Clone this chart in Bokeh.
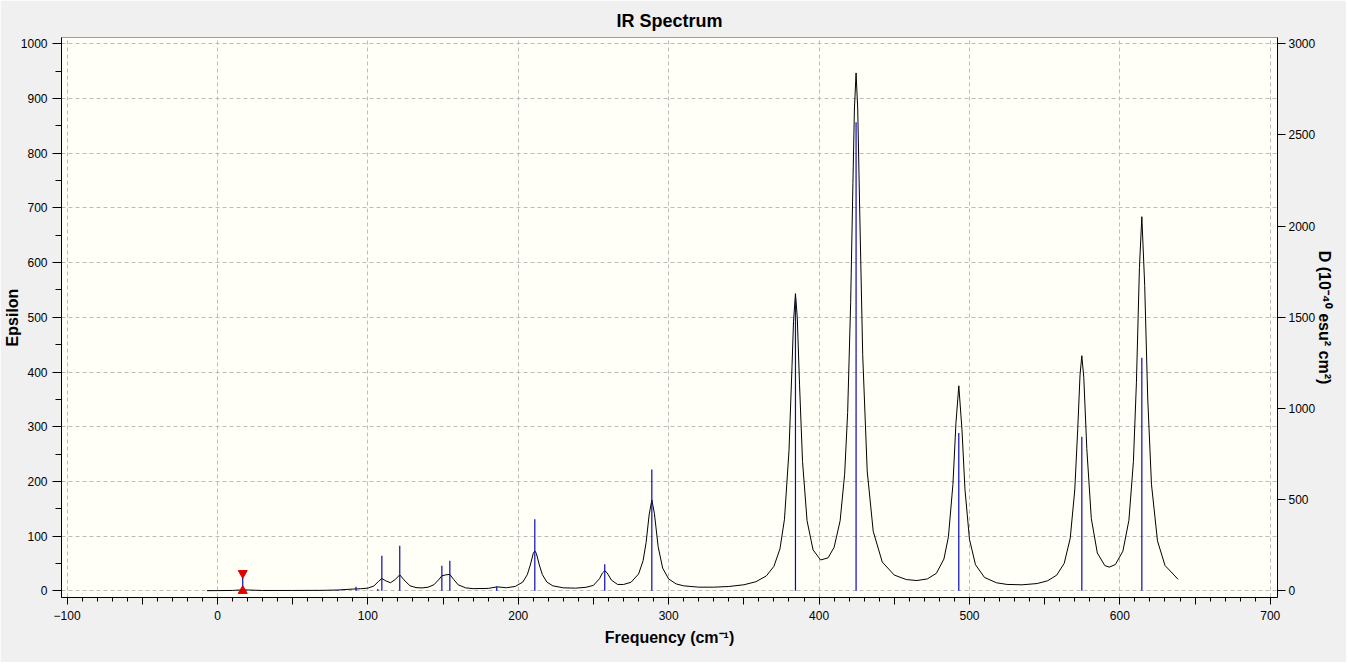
from bokeh.plotting import figure
from bokeh.models import Range1d, LinearAxis, FixedTicker, ColumnDataSource
from bokeh.embed import file_html
from bokeh.resources import INLINE

# ---- data ----
# computed IR stick frequencies (cm-1) and dipole strengths D (10^-40 esu^2 cm^2)
stick_freq = [16.8, 80.2, 92.1, 106.6, 109.3, 121.2, 149.2, 154.5, 185.7, 211.0,
              257.5, 288.8, 384.3, 424.6, 492.9, 574.7, 614.6]
stick_D = [97, 4, 22, 10, 192, 247, 137, 165, 24, 392,
           146, 665, 1605, 2570, 865, 845, 1278]

# broadened spectrum (Epsilon) read point by point
curve_freq = [-7, 0, 10, 17, 30, 50, 70, 80, 90, 95, 100, 104, 107, 109.3, 112, 115, 118,
              121.2, 124, 128, 132, 136, 140, 144, 147, 149.2, 152, 154.5, 157, 160, 165,
              170, 180, 186, 192, 198, 203, 206, 208, 210, 211, 212, 214, 216, 219, 223,
              230, 238, 245, 250, 254, 256, 257.5, 259, 262, 266, 270, 275, 280, 283, 285,
              287, 288.8, 290.5, 293, 296, 300, 305, 310, 320, 330, 340, 350, 358, 365,
              370, 374, 377, 380, 382, 383, 384.3, 385.5, 387, 389, 392, 396, 401, 406,
              410, 414, 417, 419, 421, 422.5, 423.5, 424.6, 425.7, 427, 429, 432, 436,
              442, 450, 458, 465, 472, 478, 483, 486, 489, 491, 492.9, 495, 497, 500, 504,
              510, 518, 525, 535, 545, 552, 558, 563, 567, 570, 572, 573.5, 574.7, 576,
              578, 581, 585, 590, 593, 597, 602, 606, 609, 611, 613, 614.6, 616.5, 618.5,
              621, 625, 630, 638.7]
curve_eps = [0.3, 0.4, 0.7, 1.8, 0.6, 0.7, 0.9, 1.5, 3.2, 3.8, 4.9, 8.9, 17.0, 22.5, 18.1,
             14.8, 20.2, 29.2, 20.1, 9.2, 5.9, 5.3, 6.6, 11.2, 20.1, 27.4, 29.3, 30.0, 21.0,
             11.1, 5.4, 4.0, 4.4, 7.3, 5.6, 8.0, 16.0, 29.5, 47.2, 68.7, 72.9, 68.7, 47.3,
             29.7, 16.1, 9.1, 5.5, 4.9, 6.4, 10.0, 22.2, 32.7, 36.8, 33.1, 19.5, 11.7, 11.6,
             15.7, 30.8, 55.1, 88.4, 138.6, 166.2, 141.7, 80.8, 41.5, 21.6, 12.6, 9.1, 6.7,
             6.7, 7.9, 11.1, 16.6, 27.4, 44.9, 76.8, 130.9, 255.9, 409.9, 491.9, 543.3,
             499.7, 377.8, 236.7, 128.3, 74.9, 56.4, 60.3, 79.6, 128.0, 213.2, 325.9, 527.1,
             744.1, 880.8, 946.7, 880.8, 698.0, 431.6, 218.8, 108.8, 52.7, 28.8, 20.6, 18.8,
             21.8, 32.0, 58.1, 98.7, 194.7, 306.5, 374.8, 295.0, 185.4, 94.2, 47.7, 24.4,
             14.7, 11.7, 11.0, 13.3, 18.4, 28.7, 50.3, 96.3, 184.3, 297.1, 394.5, 429.8,
             389.9, 260.4, 132.3, 69.2, 46.1, 43.3, 48.0, 72.5, 128.9, 236.2, 381.2, 590.7,
             683.9, 558.4, 352.5, 194.9, 91.4, 46.4, 21.0]

selected_index = 0  # the highlighted stick (red markers)

x_labeled = [-100, 0, 100, 200, 300, 400, 500, 600, 700]
x_major = list(range(-100, 701, 50))
x_minor = list(range(-100, 701, 10))
eps_ticks = [0, 100, 200, 300, 400, 500, 600, 700, 800, 900, 1000]
eps_minor = list(range(0, 1001, 50))
d_ticks = [0, 500, 1000, 1500, 2000, 2500, 3000]

title_text = "IR Spectrum"
x_title = "Frequency (cm\u207b\u00b9)"
y_title = "Epsilon"
y2_title = "D (10\u207b\u2074\u2070 esu\u00b2 cm\u00b2)"

FONT = "Liberation Sans"
X0, X1 = -103.7, 704.8
Y0, Y1 = -12.2, 1011.5

p = figure(width=1346, height=662, output_backend="svg", toolbar_location=None,
           x_range=Range1d(X0, X1), y_range=Range1d(Y0, Y1),
           title=title_text, background_fill_color="#fffff8",
           border_fill_color="#f0f0f0", outline_line_color="#a0a0a0",
           min_border_left=61, min_border_right=69, min_border_top=37,
           min_border_bottom=65)
p.extra_y_ranges = {"D": Range1d(Y0 * 3, Y1 * 3)}

p.title.align = "center"
p.title.text_font = FONT
p.title.text_font_size = "18px"
p.title.text_font_style = "bold"
p.title.text_color = "#000000"
p.title.standoff = 14

# bottom axis
xa = p.xaxis[0]
xa.ticker = FixedTicker(ticks=x_major, minor_ticks=x_minor)
xa.major_label_overrides = {float(t): "" for t in x_major if t % 100 != 0}
xa.axis_label = x_title
xa.major_tick_out = 7
xa.major_tick_in = 0
xa.minor_tick_out = 4
xa.minor_tick_in = 0
xa.major_label_standoff = 6
xa.axis_label_standoff = 6

# left axis
ya = p.yaxis[0]
ya.ticker = FixedTicker(ticks=eps_ticks, minor_ticks=eps_minor)
ya.axis_label = y_title
ya.major_tick_out = 9
ya.major_tick_in = 0
ya.minor_tick_out = 6
ya.minor_tick_in = 0
ya.major_label_standoff = 5
ya.axis_label_standoff = -3

# right axis
ra = LinearAxis(y_range_name="D", ticker=FixedTicker(ticks=d_ticks), axis_label=y2_title)
ra.major_tick_out = 8
ra.major_tick_in = 0
ra.minor_tick_line_color = None
ra.major_label_standoff = 3
ra.axis_label_standoff = -2
p.add_layout(ra, "right")

for ax in (xa, ya, ra):
    ax.axis_line_color = "#000000"
    ax.major_tick_line_color = "#000000"
    ax.major_label_text_font = FONT
    ax.major_label_text_font_size = "12px"
    ax.major_label_text_color = "#000000"
    ax.axis_label_text_font = FONT
    ax.axis_label_text_font_size = "16px"
    ax.axis_label_text_font_style = "bold"
    ax.axis_label_text_color = "#000000"
xa.minor_tick_line_color = "#000000"
ya.minor_tick_line_color = "#000000"

p.xgrid.ticker = FixedTicker(ticks=x_labeled)
p.ygrid.ticker = FixedTicker(ticks=eps_ticks)
for g in (p.xgrid[0], p.ygrid[0]):
    g.grid_line_color = "#bcbcbc"
    g.grid_line_dash = "4 3"
    g.grid_line_width = 1

# spectrum curve
p.line(curve_freq, curve_eps, line_color="#000000", line_width=1)

# sticks
src = ColumnDataSource(dict(f=stick_freq, D=stick_D, z=[0] * len(stick_freq)))
p.segment(x0="f", y0="z", x1="f", y1="D", source=src, y_range_name="D",
          line_color="#0a0ab4", line_width=1.2)

# selected stick markers
p.scatter([stick_freq[selected_index]], [stick_D[selected_index]], y_range_name="D",
          marker="inverted_triangle", size=9, color="#e00000")
p.scatter([stick_freq[selected_index]], [0], y_range_name="D",
          marker="triangle", size=9, color="#e00000")

open("out.html", "w").write(file_html(p, INLINE))
